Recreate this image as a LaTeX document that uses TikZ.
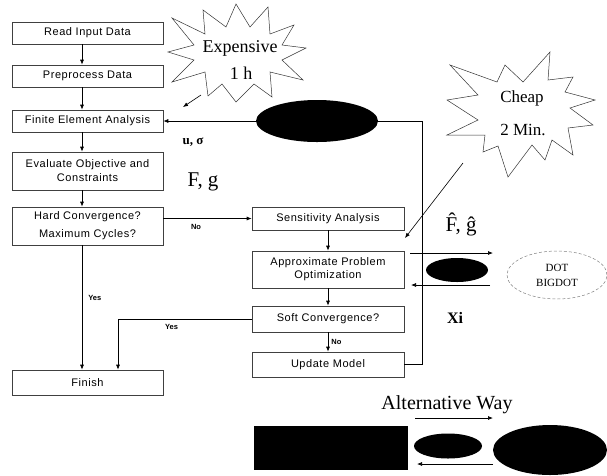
\documentclass[tikz,border=0pt]{standalone}
\usepackage{fontspec}
\setmainfont{Liberation Serif}
\setsansfont{Liberation Sans}
\newfontfamily\boxfont{Liberation Sans}[LetterSpace=5]
\usetikzlibrary{arrows.meta,shapes.geometric}
\begin{document}
\begin{tikzpicture}[x=1pt,y=-1pt,
  box/.style={draw=black!75,line width=0.6pt,minimum width=151pt,inner sep=1pt,align=center,
    font=\boxfont\fontsize{11}{14}\selectfont},
  arr/.style={-{Latex[length=5pt,width=4pt]},line width=0.7pt},
  conn/.style={line width=0.7pt},
  lab/.style={font=\sffamily\bfseries\fontsize{7.5}{9}\selectfont,inner sep=0pt},
  blob/.style={ellipse,fill=black,inner sep=0pt},
  star/.style={draw=black!80,line width=0.5pt},
  big/.style={font=\fontsize{21}{24}\selectfont,inner sep=0pt}]
\useasboundingbox (0,0) rectangle (607,475);
% left column
\node[box,minimum height=22] (read) at (87.5,33) {Read Input Data};
\node[box,minimum height=22] (pre) at (87.5,76) {Preprocess Data};
\node[box,minimum height=22] (fea) at (87.5,121) {Finite Element Analysis};
\node[box,minimum height=38] (eval) at (87.5,171) {Evaluate Objective and\\Constraints};
\node[box,minimum height=38,font=\boxfont\fontsize{11}{18}\selectfont] (hard) at (87.5,226) {Hard Convergence?\\Maximum Cycles?};
\node[box,minimum height=25] (fin) at (87.5,382.5) {Finish};
% right column
\node[box,minimum height=23,minimum width=152] (sens) at (328,218.5) {Sensitivity Analysis};
\node[box,minimum height=37,minimum width=152,font=\boxfont\fontsize{11}{13}\selectfont] (appr) at (328,269.5) {Approximate Problem\\Optimization};
\node[box,minimum height=26,minimum width=152] (soft) at (328,319) {Soft Convergence?};
\node[box,minimum height=25,minimum width=152] (upd) at (328,364.5) {Update Model};
% blobs
\node[blob,minimum width=122,minimum height=42] (el1) at (317,121) {};
\node[blob,minimum width=62,minimum height=24] (el2) at (457,270) {};
\node[ellipse,draw=black!50,densely dashed,line width=0.5pt,minimum width=100,minimum height=48,inner sep=0pt,
  align=center,font=\fontsize{11}{15}\selectfont] (dot) at (557,275) {DOT\\BIGDOT};
\fill[black] (254,426) rectangle (408,470);
\node[blob,minimum width=68,minimum height=25] (el3) at (448,446) {};
\node[blob,minimum width=114,minimum height=50] (el4) at (550,450) {};
% vertical flow
\draw[arr] ([xshift=-5.5]read.south) -- ([xshift=-5.5]pre.north);
\draw[arr] ([xshift=-5.5]pre.south) -- ([xshift=-5.5]fea.north);
\draw[arr] ([xshift=-5.5]fea.south) -- ([xshift=-5.5]eval.north);
\draw[arr] ([xshift=-5.5]eval.south) -- ([xshift=-5.5]hard.north);
\draw[arr] ([xshift=-5.5]hard.south) -- node[lab,right=6pt,pos=0.42]{Yes} ([xshift=-5.5]fin.north);
\draw[arr] (hard.east |- sens.west) -- node[lab,below=5pt,pos=0.37]{No} (sens.west);
\draw[arr] (sens.south) -- (appr.north);
\draw[arr] (appr.south) -- (soft.north);
\draw[arr] (soft.south) -- node[lab,right=3pt]{No} (upd.north);
\draw[arr] (soft.west) -| node[lab,below=5pt,pos=0.3]{Yes} ([xshift=30.5]fin.north);
% feedback loop
\coordinate (tr) at (422,121);
\draw[conn] (upd.east) -| (tr) -- (el1.east);
\draw[arr] (el1.west) -- (fea.east);
% side arrows near small blob
\coordinate (a1s) at (410,253); \coordinate (a1e) at (493,253);
\coordinate (a2s) at (490,285); \coordinate (a2e) at (411,285);
\draw[arr] (a1s) -- (a1e);
\draw[arr] (a2s) -- (a2e);
% bottom arrows
\coordinate (b1s) at (415,418); \coordinate (b1e) at (493,418);
\coordinate (b2s) at (493,464); \coordinate (b2e) at (417,464);
\draw[arr] (b1s) -- (b1e);
\draw[arr] (b2s) -- (b2e);
% stars
\draw[star] (306,48) -- (282,45) -- (294,25) -- (270,34) -- (268,7) -- (250,27) -- (236,4) -- (226,27)
  -- (203,10) -- (205,34) -- (172,18) -- (194,45) -- (168,52) -- (194,60) -- (172,82) -- (205,72)
  -- (208,96) -- (222,84) -- (236,102) -- (254,84) -- (272,97) -- (270,72) -- (303,80) -- (282,60) -- cycle;
\node[font=\fontsize{18}{20}\selectfont,inner sep=0pt] (exp) at (240,48) {Expensive};
\node[font=\fontsize{18}{20}\selectfont,inner sep=0pt] (exph) at (241,73) {1 h};
\draw[star] (450,65) -- (497,82) -- (505,65) -- (523,82) -- (550,52) -- (548,80) -- (573,77) -- (565,92)
  -- (595,100) -- (570,108) -- (593,125) -- (568,128) -- (573,155) -- (552,140) -- (545,160) -- (532,145)
  -- (508,177) -- (498,146) -- (483,152) -- (485,135) -- (447,135) -- (478,120) -- (447,100) -- (478,95) -- cycle;
\node[font=\fontsize{17}{20}\selectfont,inner sep=0pt] (chp) at (522,98) {Cheap};
\node[font=\fontsize{17}{20}\selectfont,inner sep=0pt] (chm) at (523,130) {2 Min.};
\coordinate (e1) at (201,95); \coordinate (e2) at (183,107);
\draw[arr,line width=0.6pt] (e1) -- (e2);
\coordinate (c1) at (463,163); \coordinate (c2) at (405,238);
\draw[arr,line width=0.6pt] (c1) -- (c2);
% labels
\node[font=\bfseries\fontsize{13}{15}\selectfont,inner sep=0pt] (us) at (193,142) {u, σ};
\node[big] (fg) at (203,182) {F, g};
\node[big] (fgh) at (461,224) {\^{F}, \^{g}};
\node[font=\bfseries\fontsize{16}{18}\selectfont,inner sep=0pt] (xi) at (455,318) {Xi};
\node[font=\fontsize{20}{24}\selectfont,inner sep=0pt] (alt) at (447,405) {Alternative Way};
\end{tikzpicture}
\end{document}
